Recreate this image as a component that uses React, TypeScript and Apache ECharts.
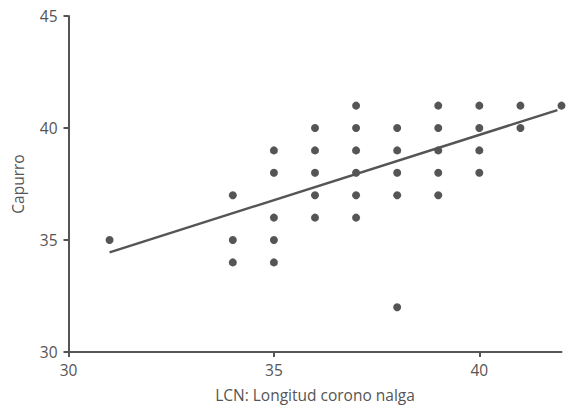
import React, { useEffect, useRef } from "react";
import * as echarts from "echarts";

const pointX = [
  31,
  34, 34, 34,
  35, 35, 35, 35, 35,
  36, 36, 36, 36, 36,
  37, 37, 37, 37, 37, 37,
  38, 38, 38, 38, 38,
  39, 39, 39, 39, 39,
  40, 40, 40, 40,
  41, 41,
  42,
];
const pointY = [
  35,
  37, 35, 34,
  39, 38, 36, 35, 34,
  40, 39, 38, 37, 36,
  41, 40, 39, 38, 37, 36,
  40, 39, 38, 37, 32,
  41, 40, 39, 38, 37,
  41, 40, 39, 38,
  41, 40,
  41,
];
const fitX = [31, 41.9];
const fitY = [34.45, 40.8];

const xName = "LCN: Longitud corono nalga";
const yName = "Capurro";

const COLOR = "#555555";
const FONT = "Open Sans";
const FS = 15.5;

export default function App() {
  const ref = useRef<HTMLDivElement>(null);
  useEffect(() => {
    if (!ref.current) return;
    const chart = echarts.init(ref.current, undefined, { renderer: "svg" });
    chart.setOption({
      animation: false,
      grid: { left: 68.5, right: 8.5, top: 16, bottom: 55.7, containLabel: false },
      xAxis: {
        type: "value",
        min: 30,
        max: 42,
        interval: 5,
        name: xName,
        nameLocation: "middle",
        nameGap: 35,
        nameTextStyle: { color: COLOR, fontFamily: FONT, fontSize: FS },
        axisLine: { show: true, onZero: false, lineStyle: { color: COLOR, width: 2 } },
        axisTick: { show: true, length: 5, lineStyle: { color: COLOR, width: 2 } },
        axisLabel: { color: COLOR, fontFamily: FONT, fontSize: FS, margin: 10, showMaxLabel: false },
        splitLine: { show: false },
      },
      yAxis: {
        type: "value",
        min: 30,
        max: 45,
        interval: 5,
        name: yName,
        nameLocation: "middle",
        nameGap: 43,
        nameRotate: 90,
        nameTextStyle: { color: COLOR, fontFamily: FONT, fontSize: FS },
        axisLine: { show: true, lineStyle: { color: COLOR, width: 2 } },
        axisTick: { show: true, length: 5, lineStyle: { color: COLOR, width: 2 } },
        axisLabel: { color: COLOR, fontFamily: FONT, fontSize: FS, margin: 11 },
        splitLine: { show: false },
      },
      series: [
        {
          type: "scatter",
          data: pointX.map((x, i) => [x, pointY[i]]),
          symbol: "circle",
          symbolSize: 8,
          itemStyle: { color: COLOR, opacity: 1 },
        },
        {
          type: "line",
          data: fitX.map((x, i) => [x, fitY[i]]),
          symbol: "none",
          lineStyle: { color: COLOR, width: 2.5 },
        },
      ],
    });
    return () => chart.dispose();
  }, []);
  return <div ref={ref} style={{ width: 570, height: 408, position: "absolute", left: 0, top: 0 }} />;
}
